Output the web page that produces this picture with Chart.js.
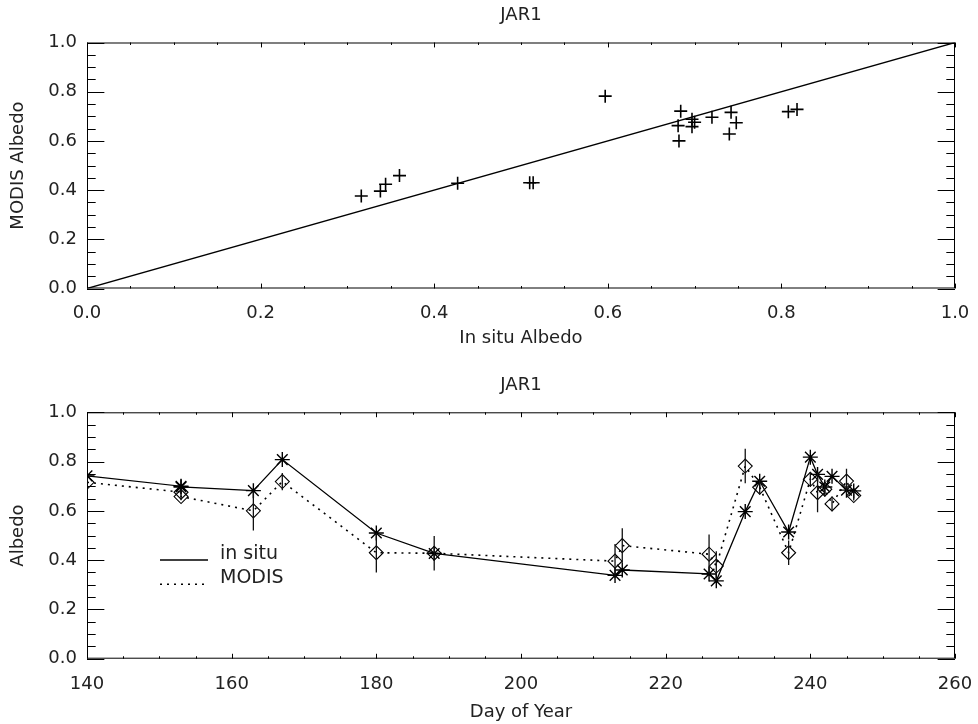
<!DOCTYPE html>
<html>
<head>
<meta charset="utf-8">
<title>JAR1 albedo</title>
<script src="https://cdn.jsdelivr.net/npm/chart.js@4.4.1/dist/chart.umd.min.js"></script>
<style>
  body { margin: 0; background: #fff; }
  canvas { position: absolute; left: 0; }
</style>
</head>
<body>
<canvas id="scatter" width="978" height="362" style="top:0"></canvas>
<canvas id="series" width="978" height="362" style="top:362px"></canvas>
<script>
var siteName = 'JAR1';
var seriesNames = ['in situ', 'MODIS'];

// one entry per matched observation, sorted by day
var days     = [140, 153, 153, 163, 167, 180, 188, 213, 214, 226, 227, 231, 233, 237, 240, 241, 242, 243, 245, 246];
var inSitu   = [0.742, 0.700, 0.697, 0.682, 0.808, 0.510, 0.427, 0.338, 0.360, 0.344, 0.316, 0.597, 0.720, 0.514, 0.818, 0.748, 0.697, 0.740, 0.684, 0.681];
var modis    = [0.716, 0.676, 0.658, 0.600, 0.719, 0.430, 0.428, 0.396, 0.459, 0.424, 0.376, 0.782, 0.696, 0.430, 0.728, 0.674, 0.688, 0.628, 0.721, 0.662];
var modisErr = [0.020, 0.015, 0.015, 0.080, 0.035, 0.080, 0.070, 0.070, 0.070, 0.080, 0.060, 0.070, 0.030, 0.050, 0.030, 0.080, 0.030, 0.030, 0.050, 0.020];
var oneToOne = [0, 1];

Chart.defaults.font.family = '"DejaVu Sans", sans-serif';
Chart.defaults.font.size = 18;
Chart.defaults.color = '#222';

// box around the plot with inward major/minor ticks on all four sides
var idlAxes = {
  id: 'idlAxes',
  afterDatasetsDraw: function (chart) {
    var ctx = chart.ctx, a = chart.chartArea;
    var xs = chart.scales.x, ys = chart.scales.y;
    var xLen = 0.02 * (a.bottom - a.top), yLen = 0.02 * (a.right - a.left);
    ctx.save();
    ctx.strokeStyle = '#000';
    ctx.lineWidth = 1;
    ctx.strokeRect(a.left + 0.5, a.top + 0.5, a.right - a.left - 1, a.bottom - a.top - 1);
    ctx.beginPath();
    tickList(xs).forEach(function (t) {
      var px = Math.round(xs.getPixelForValue(t.v)) + 0.5;
      var len = t.major ? xLen : xLen / 2;
      ctx.moveTo(px, a.bottom); ctx.lineTo(px, a.bottom - len);
      ctx.moveTo(px, a.top); ctx.lineTo(px, a.top + len);
    });
    tickList(ys).forEach(function (t) {
      var py = Math.round(ys.getPixelForValue(t.v)) + 0.5;
      var len = t.major ? yLen : yLen / 2;
      ctx.moveTo(a.left, py); ctx.lineTo(a.left + len, py);
      ctx.moveTo(a.right, py); ctx.lineTo(a.right - len, py);
    });
    ctx.stroke();
    ctx.restore();
  }
};

function tickList(scale) {
  var minor = scale.options.ticks.stepSize / 4;
  var n = Math.round((scale.max - scale.min) / minor), list = [];
  for (var i = 0; i <= n; i++) {
    list.push({ v: scale.min + i * minor, major: i % 4 === 0 });
  }
  return list;
}

// vertical spread of the MODIS values
var modisErrorBars = {
  id: 'modisErrorBars',
  afterDatasetsDraw: function (chart) {
    var ctx = chart.ctx, a = chart.chartArea;
    var xs = chart.scales.x, ys = chart.scales.y;
    ctx.save();
    ctx.beginPath();
    ctx.rect(a.left, a.top, a.right - a.left, a.bottom - a.top);
    ctx.clip();
    ctx.strokeStyle = '#111';
    ctx.lineWidth = 1.3;
    ctx.beginPath();
    days.forEach(function (d, i) {
      var px = xs.getPixelForValue(d);
      ctx.moveTo(px, ys.getPixelForValue(modis[i] - modisErr[i]));
      ctx.lineTo(px, ys.getPixelForValue(modis[i] + modisErr[i]));
    });
    ctx.stroke();
    ctx.restore();
  }
};

// line-style key inside the lower left of the plot
var seriesKey = {
  id: 'seriesKey',
  afterDraw: function (chart) {
    var ctx = chart.ctx, a = chart.chartArea;
    ctx.save();
    ctx.font = '19px "DejaVu Sans"';
    ctx.textBaseline = 'middle';
    ctx.fillStyle = '#222';
    chart.data.datasets.forEach(function (ds, i) {
      var y = a.top + 147.7 + i * 24.3;
      ctx.strokeStyle = '#000';
      ctx.lineWidth = ds.borderWidth;
      ctx.setLineDash(ds.borderDash || []);
      ctx.beginPath();
      ctx.moveTo(a.left + 73, y);
      ctx.lineTo(a.left + 121, y);
      ctx.stroke();
      ctx.fillText(ds.label, a.left + 133, y - 6);
    });
    ctx.restore();
  }
};

function titleOpts(pad) {
  return {
    display: true, text: siteName, fullSize: false,
    font: { size: 18, weight: 'normal' }, padding: pad
  };
}

function xAxis(min, max, step, label, tickPad, titlePad, height, fmt) {
  return {
    type: 'linear', min: min, max: max,
    grid: { display: false, drawTicks: false },
    border: { display: false },
    ticks: { stepSize: step, padding: tickPad, maxRotation: 0, callback: fmt },
    title: { display: true, text: label, padding: { top: 0, bottom: titlePad } },
    afterFit: function (s) {
      s.height = height;
      // end labels may hang past the frame; the layout padding leaves room
      s.paddingLeft = 0;
      s.paddingRight = 0;
    }
  };
}

function yAxis(label) {
  return {
    type: 'linear', min: 0, max: 1,
    grid: { display: false, drawTicks: false },
    border: { display: false },
    ticks: { stepSize: 0.2, padding: 10, callback: function (v) { return v.toFixed(1); } },
    title: { display: true, text: label, padding: { top: 7.2, bottom: 0 } },
    afterFit: function (s) { s.width = 87; }
  };
}

new Chart(document.getElementById('scatter'), {
  type: 'scatter',
  data: {
    datasets: [{
      data: inSitu.map(function (v, i) { return { x: v, y: modis[i] }; }),
      pointStyle: 'cross',
      pointRadius: 6.5,
      borderColor: '#000',
      borderWidth: 1.6
    }, {
      type: 'line',
      data: oneToOne.map(function (v) { return { x: v, y: v }; }),
      borderColor: '#000',
      borderWidth: 1.3,
      pointRadius: 0
    }]
  },
  options: {
    responsive: false,
    animation: false,
    layout: { padding: { left: 0, right: 23, top: 0, bottom: 0 } },
    plugins: {
      legend: { display: false },
      tooltip: { enabled: false },
      title: titleOpts({ top: 4.2, bottom: 16.7 })
    },
    scales: {
      x: xAxis(0, 1, 0.2, 'In situ Albedo', 13.7, 13.2, 73.5, function (v) { return v.toFixed(1); }),
      y: yAxis('MODIS Albedo')
    }
  },
  plugins: [idlAxes]
});

new Chart(document.getElementById('series'), {
  type: 'line',
  data: {
    datasets: [{
      label: seriesNames[0],
      data: days.map(function (d, i) { return { x: d, y: inSitu[i] }; }),
      borderColor: '#000',
      borderWidth: 1.3,
      pointStyle: 'star',
      pointRadius: 7.5,
      pointBorderColor: '#000',
      pointBorderWidth: 1.4,
      clip: 0
    }, {
      label: seriesNames[1],
      data: days.map(function (d, i) { return { x: d, y: modis[i] }; }),
      borderColor: '#000',
      borderWidth: 1.6,
      borderDash: [2, 5],
      pointStyle: 'rectRot',
      pointRadius: 7,
      pointBackgroundColor: 'rgba(0,0,0,0)',
      pointBorderColor: '#000',
      pointBorderWidth: 1.1,
      clip: 0
    }]
  },
  options: {
    responsive: false,
    animation: false,
    layout: { padding: { left: 0, right: 23, top: 0, bottom: 0 } },
    plugins: {
      legend: { display: false },
      tooltip: { enabled: false },
      title: titleOpts({ top: 12.2, bottom: 16.5 })
    },
    scales: {
      x: xAxis(140, 260, 20, 'Day of Year', 14.5, 1.2, 65.3, function (v) { return String(v); }),
      y: yAxis('Albedo')
    }
  },
  plugins: [idlAxes, modisErrorBars, seriesKey]
});
</script>
</body>
</html>
